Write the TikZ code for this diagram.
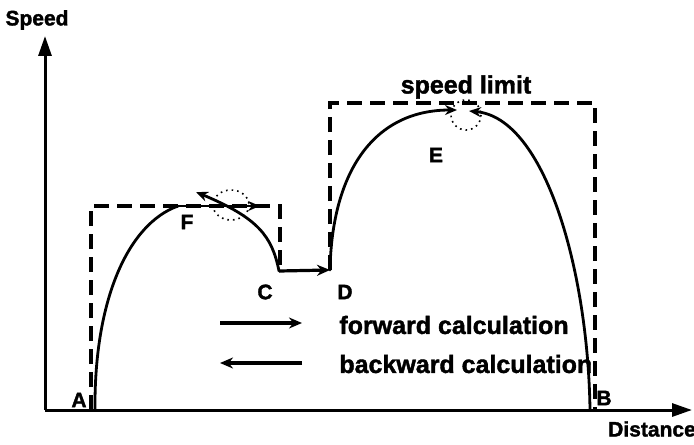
\documentclass[tikz,border=0pt]{standalone}
\usepackage{fontspec}
\setmainfont{Liberation Sans}[BoldFeatures={FakeBold=1.6}]
\usetikzlibrary{arrows.meta}

\begin{document}
\begin{tikzpicture}[x=0.5pt,y=-0.5pt]
\tikzset{
  axis/.style={draw=black,line width=1.5pt,-{Triangle[length=10pt,width=6.5pt]}},
  limit/.style={draw=black,line width=2pt,dash pattern=on 7.5pt off 4pt},
  speedcurve/.style={draw=black,line width=1.4pt,line cap=round},
  calcarrow/.style={speedcurve,-{Stealth[length=6pt,width=5pt]}},
  legendarrow/.style={draw=black,line width=1.6pt,-{Stealth[length=6.5pt,width=5.5pt]}},
  marker/.style={draw=black,dotted,line width=0.8pt},
  pointlabel/.style={font=\fontsize{10.5}{12}\selectfont\bfseries,inner sep=0pt},
  textlabel/.style={font=\fontsize{12.5}{14}\selectfont\bfseries,inner sep=0pt}
}
\useasboundingbox (0,0) rectangle (694,444);
% axes
\coordinate (O) at (45,410);
\coordinate (ytip) at (45,36);
\coordinate (xtip) at (692,410);
\draw[axis] (O) -- (ytip);
\draw[axis] (O) -- (xtip);
\node[pointlabel] (speed) at (37,20) {Speed};
\node[pointlabel] (distance) at (652,429) {Distance};
% speed limit
\coordinate (l0) at (91,410);
\coordinate (l1) at (91,206);
\coordinate (l2) at (280,206);
\coordinate (l3) at (280,270);
\coordinate (l4) at (330,270);
\coordinate (l5) at (330,103);
\coordinate (l6) at (595,103);
\coordinate (l7) at (595,410);
\draw[limit] (l0) -- (l1) -- (l2) -- (l3);
\draw[limit] (l4) -- (l5) -- (l6) -- (l7);
\node[textlabel] (limitlabel) at (466,87) {speed limit};
% curve points
\coordinate (A) at (95,410);
\coordinate (F1) at (178,206);
\coordinate (F2) at (260,206);
\coordinate (C) at (279,271);
\coordinate (Cb) at (196,192);
\coordinate (D) at (330,270);
\coordinate (E1) at (457,110);
\coordinate (B) at (590,410);
\coordinate (E2) at (469,111);
% first hill
\draw[speedcurve] (A) .. controls (94,300) and (128,224) .. (F1);
\draw[calcarrow] (F1) -- (F2);
\draw[calcarrow] (C) .. controls (272,236) and (258,218) .. (Cb);
\draw[marker] (231,205) ellipse (18 and 15);
% C to D
\draw[legendarrow] (C) -- (D);
% second hill
\draw[calcarrow] (D) .. controls (332,170) and (375,110) .. (E1);
\draw[calcarrow] (B) .. controls (588,270) and (545,118) .. (E2);
\draw[marker] (466,115) circle (15);
% point labels
\node[pointlabel] (nA) at (79,400) {A};
\node[pointlabel] (nB) at (604,398) {B};
\node[pointlabel] (nC) at (265,292) {C};
\node[pointlabel] (nD) at (345,292) {D};
\node[pointlabel] (nE) at (436,155) {E};
\node[pointlabel] (nF) at (187,222) {F};
% legend
\coordinate (fw_s) at (220,323);
\coordinate (fw_e) at (302,323);
\coordinate (bw_s) at (302,363);
\coordinate (bw_e) at (220,363);
\draw[legendarrow] (fw_s) -- (fw_e);
\draw[legendarrow] (bw_s) -- (bw_e);
\node[textlabel,anchor=west] (fwtext) at (339,325) {forward calculation};
\node[textlabel,anchor=west] (bwtext) at (339,364) {backward calculation};
\end{tikzpicture}
\end{document}
